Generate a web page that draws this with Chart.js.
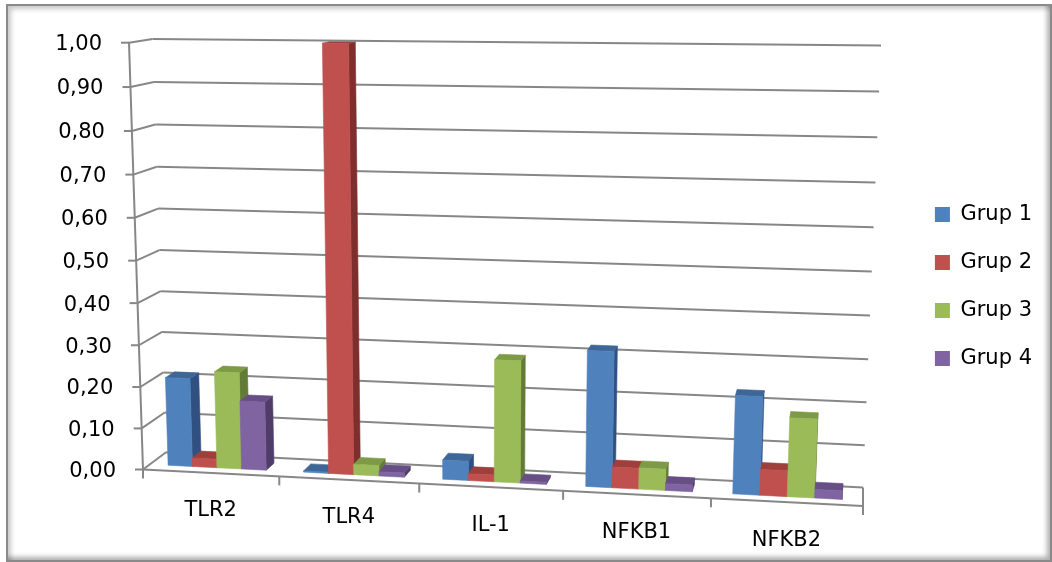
<!DOCTYPE html>
<html>
<head>
<meta charset="utf-8">
<script src="https://cdn.jsdelivr.net/npm/chart.js@4.4.1/dist/chart.umd.min.js"></script>
<style>
  html, body { margin: 0; padding: 0; background: #ffffff; }
  #wrap { position: relative; width: 1052px; height: 562px; overflow: hidden; }
  #c { position: absolute; left: 0; top: 0; }
  #frame {
    position: absolute; left: 6px; top: 4px; width: 1042px; height: 554px;
    border: 2px solid #8a8a8a;
    box-shadow: inset 4px 4px 5px -1px rgba(0,0,0,0.22), inset -4px -4px 5px -1px rgba(0,0,0,0.32);
    pointer-events: none;
  }
</style>
</head>
<body>
<div id="wrap">
  <canvas id="c" width="1052" height="562"></canvas>
  <div id="frame"></div>
</div>
<script>
// ---- data ----
const categories = ['TLR2', 'TLR4', 'IL-1', 'NFKB1', 'NFKB2'];
const grup1 = [0.214, 0.003, 0.046, 0.318, 0.228];
const grup2 = [0.021, 1.000, 0.016, 0.049, 0.060];
const grup3 = [0.233, 0.025, 0.288, 0.050, 0.182];
const grup4 = [0.165, 0.010, 0.005, 0.016, 0.020];
const seriesNames = ['Grup 1', 'Grup 2', 'Grup 3', 'Grup 4'];
const yTickStep = 0.1;

// ---- styles ----
const frontColors = ['#4F81BD', '#C0504D', '#9BBB59', '#8064A2'];
const topColors   = ['#3E6798', '#9E3F3C', '#7D9A46', '#674F86'];
const sideColors  = ['#2F5080', '#7E2F2D', '#637C35', '#4F3C69'];
const gridColor = '#878787';
const FONT = '21px "DejaVu Sans"';

// ---- perspective frame of the plot box ----
// front plane corners in (u,v) order: (0,0) (1,0) (1,1) (0,1)
const FRONT_QUAD = [[143, 469.5], [863, 506], [881.6, 49.3], [129, 42.7]];
const VANISH = [863, -70];      // depth vanishing point
const DEPTH = 0.032;            // how far the back wall sits toward it
const BAR_Z0 = 0.30, BAR_Z1 = 0.70;

function quadMap(q) {
  const [[x0, y0], [x1, y1], [x2, y2], [x3, y3]] = q;
  const dx1 = x1 - x2, dx2 = x3 - x2, dx3 = x0 - x1 + x2 - x3;
  const dy1 = y1 - y2, dy2 = y3 - y2, dy3 = y0 - y1 + y2 - y3;
  const den = dx1 * dy2 - dx2 * dy1;
  const g = (dx3 * dy2 - dx2 * dy3) / den;
  const h = (dx1 * dy3 - dx3 * dy1) / den;
  const a = x1 - x0 + g * x1, b = x3 - x0 + h * x3, c = x0;
  const d = y1 - y0 + g * y1, e = y3 - y0 + h * y3, f = y0;
  return (u, v) => {
    const w = g * u + h * v + 1;
    return [(a * u + b * v + c) / w, (d * u + e * v + f) / w];
  };
}
const frontMap = quadMap(FRONT_QUAD);
function project(u, v, z) {
  const [x, y] = frontMap(u, v);
  const t = DEPTH * z;
  return [x + t * (VANISH[0] - x), y + t * (VANISH[1] - y)];
}

function line(ctx, a, b) {
  ctx.beginPath();
  ctx.moveTo(a[0], a[1]);
  ctx.lineTo(b[0], b[1]);
  ctx.stroke();
}
function poly(ctx, pts, color) {
  ctx.beginPath();
  ctx.moveTo(pts[0][0], pts[0][1]);
  for (let i = 1; i < pts.length; i++) ctx.lineTo(pts[i][0], pts[i][1]);
  ctx.closePath();
  ctx.fillStyle = color;
  ctx.fill();
  ctx.strokeStyle = color;
  ctx.lineWidth = 0.6;
  ctx.stroke();
}
const fmt = (v) => v.toFixed(2).replace('.', ',');

const perspectivePlot = {
  id: 'perspectivePlot',
  beforeDatasetsDraw(chart) {
    const ctx = chart.ctx;
    const xs = chart.scales.x, ys = chart.scales.y;
    const vOf = (val) => (val - ys.min) / (ys.max - ys.min);
    ctx.save();
    ctx.lineCap = 'butt';

    // walls: gridlines on the back wall and left side wall
    ctx.strokeStyle = gridColor;
    ctx.lineWidth = 2;
    ys.ticks.forEach((t) => {
      const v = vOf(t.value);
      line(ctx, project(0, v, 0), project(0, v, 1));
      line(ctx, project(0, v, 1), project(1, v, 1));
    });

    // floor edges
    line(ctx, project(0, 0, 0), project(1, 0, 0));
    line(ctx, project(1, 0, 0), project(1, 0, 1));

    // value axis with tick marks and labels
    line(ctx, project(0, 0, 0), project(0, 1, 0));
    ctx.fillStyle = '#000';
    ctx.font = FONT;
    ctx.textAlign = 'right';
    ctx.textBaseline = 'middle';
    ys.ticks.forEach((t) => {
      const p = project(0, vOf(t.value), 0);
      line(ctx, [p[0] - 8, p[1]], p);
      ctx.fillText(fmt(t.value), p[0] - 27, p[1] + 2);
    });

    // category tick marks and labels
    const n = categories.length;
    for (let i = 0; i <= n; i++) {
      const p = project(i / n, 0, 0);
      line(ctx, p, [p[0], p[1] + 9]);
    }
    ctx.textAlign = 'center';
    xs.ticks.forEach((t, i) => {
      const u = (xs.getPixelForTick(i) - xs.left) / xs.width;
      const p = project(u, 0, 0);
      ctx.fillText(categories[t.value] ?? xs.getLabelForValue(t.value), p[0], p[1] + 38);
    });

    // bars, left to right so each front face covers its neighbour's side
    const bars = [];
    chart.data.datasets.forEach((ds, di) => {
      const meta = chart.getDatasetMeta(di);
      meta.data.forEach((el) => {
        const u0 = (el.x - el.width / 2 - xs.left) / xs.width;
        const u1 = (el.x + el.width / 2 - xs.left) / xs.width;
        const v = vOf(ys.getValueForPixel(el.y));
        bars.push({ u0, u1, v, di });
      });
    });
    bars.sort((a, b) => a.u0 - b.u0);
    bars.forEach(({ u0, u1, v, di }) => {
      const z0 = BAR_Z0, z1 = BAR_Z1;
      poly(ctx, [project(u1, 0, z0), project(u1, 0, z1), project(u1, v, z1), project(u1, v, z0)], sideColors[di]);
      poly(ctx, [project(u0, v, z0), project(u1, v, z0), project(u1, v, z1), project(u0, v, z1)], topColors[di]);
      poly(ctx, [project(u0, 0, z0), project(u1, 0, z0), project(u1, v, z0), project(u0, v, z0)], frontColors[di]);
    });

    ctx.restore();
    return false;
  }
};

const seriesValues = [grup1, grup2, grup3, grup4];
new Chart(document.getElementById('c'), {
  type: 'bar',
  data: {
    labels: categories,
    datasets: seriesNames.map((name, i) => ({
      label: name,
      data: seriesValues[i],
      backgroundColor: frontColors[i],
      borderWidth: 0
    }))
  },
  options: {
    responsive: false,
    animation: false,
    devicePixelRatio: 1,
    layout: { padding: { left: 143, top: 11, right: 10, bottom: 0 } },
    datasets: { bar: { categoryPercentage: 0.727, barPercentage: 1.0 } },
    scales: {
      x: { display: false },
      y: { display: false, min: 0, max: 1, ticks: { stepSize: yTickStep } }
    },
    plugins: {
      tooltip: { enabled: false },
      legend: {
        position: 'right',
        labels: {
          boxWidth: 15,
          boxHeight: 15,
          padding: 27,
          color: '#000',
          font: { family: 'DejaVu Sans', size: 21 }
        }
      }
    }
  },
  plugins: [perspectivePlot]
});
</script>
</body>
</html>
